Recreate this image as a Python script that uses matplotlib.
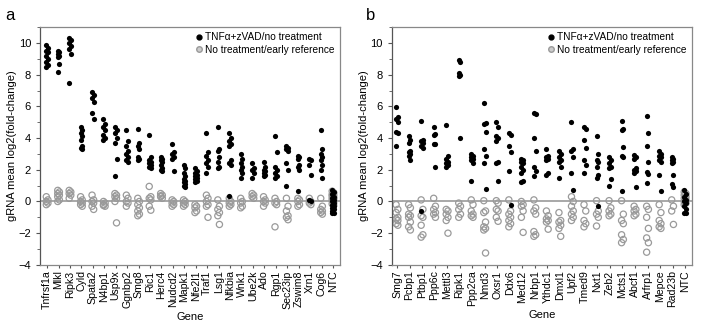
import matplotlib
matplotlib.use("Agg")
import matplotlib.pyplot as plt
from matplotlib.ticker import MultipleLocator
from matplotlib.lines import Line2D

plt.rcParams['font.family'] = ['Liberation Sans', 'DejaVu Sans']

# Panel a: genes and per-gRNA log2 fold-changes
genes_a = ["Tnfrsf1a", "Mlkl", "Ripk3", "Cyld", "Spata2", "N4bp1", "Usp9x", "Ggnbp2",
           "Smg8", "Ric1", "Herc4", "Nudcd2", "Mapk1", "Nfe2l1", "Traf1", "Lsg1",
           "Nfkbia", "Wnk1", "Ube2k", "Ado", "Rgp1", "Sec23ip", "Zswim8", "Xrn1",
           "Cog6", "NTC"]
treated_a = [
    [9.9, 9.7, 9.5, 9.4, 9.2, 9.0, 8.8, 8.6, 8.5],
    [9.5, 9.4, 9.3, 9.2, 9.1, 8.7, 8.2],
    [10.3, 10.2, 10.0, 9.8, 9.6, 9.3, 7.5],
    [4.7, 4.5, 4.3, 4.1, 3.9, 3.5, 3.4, 3.3],
    [6.9, 6.7, 6.5, 6.3, 5.6, 5.2],
    [5.2, 4.9, 4.7, 4.5, 4.2, 4.0, 3.9],
    [4.7, 4.5, 4.3, 4.0, 3.7, 2.7, 1.6],
    [4.5, 3.8, 3.5, 3.2, 3.0, 2.8, 2.6, 2.5],
    [4.6, 3.7, 3.5, 3.3, 2.8, 2.7, 2.6],
    [4.2, 2.8, 2.6, 2.5, 2.4, 2.3, 2.2, 2.1],
    [2.8, 2.7, 2.6, 2.5, 2.3, 2.1, 2.0, 1.9],
    [3.6, 3.1, 3.0, 2.8, 2.7, 1.9],
    [2.3, 2.1, 1.8, 1.6, 1.4, 1.3, 1.2, 1.1, 1.0, 0.9],
    [2.1, 1.9, 1.8, 1.7, 1.6, 1.5, 1.4, 1.3, 1.2],
    [4.3, 3.1, 2.9, 2.6, 2.4, 2.2, 1.8],
    [4.7, 3.3, 3.2, 2.8, 2.5, 2.2, 2.1],
    [4.3, 4.0, 3.8, 3.6, 3.5, 2.6, 2.4, 2.3, 0.35],
    [3.0, 2.7, 2.4, 2.2, 2.0, 1.8, 1.5],
    [2.4, 2.1, 2.0, 1.8, 1.5],
    [2.5, 2.2, 2.0, 1.9, 1.8, 1.7, 1.6],
    [4.1, 3.1, 2.2, 2.0, 1.8, 1.6, 1.5],
    [3.5, 3.4, 3.3, 3.2, 2.4, 2.0, 1.0],
    [2.9, 2.8, 2.7, 2.3, 2.2, 2.0, 0.65],
    [2.7, 2.6, 2.3, 1.7, 0.1, 0.0],
    [4.5, 3.3, 3.0, 2.8, 2.6, 2.3, 2.0, 1.5],
    [0.7, 0.6, 0.45, 0.3, 0.2, 0.1, 0.0, -0.1, -0.2, -0.3, -0.4, -0.5, -0.6, -0.7, -0.75],
]
early_a = [
    [0.3, 0.1, 0.0, -0.1, -0.2],
    [0.7, 0.6, 0.5, 0.4, 0.3, 0.1, 0.0],
    [0.7, 0.6, 0.5, 0.4, 0.2],
    [0.3, 0.1, 0.0, -0.1, -0.2, -0.3],
    [0.4, 0.1, 0.0, -0.1, -0.3, -0.5],
    [0.0, -0.1, -0.2, -0.3, -0.25],
    [0.5, 0.4, 0.3, 0.2, 0.0, -1.35],
    [0.4, 0.2, 0.0, -0.1, -0.3],
    [0.2, 0.0, -0.2, -0.4, -0.6, -0.8, -0.9],
    [0.95, 0.3, 0.2, 0.1, -0.3, -0.55],
    [0.5, 0.4, 0.3, 0.2, 0.35],
    [0.1, 0.0, -0.1, -0.2, -0.3],
    [0.1, 0.0, -0.1, -0.2, -0.3],
    [-0.2, -0.3, -0.4, -0.6, -0.7],
    [0.4, 0.2, 0.0, -0.2, -0.3, -1.0],
    [0.1, -0.3, -0.5, -0.7, -0.9, -1.45],
    [0.2, 0.0, -0.1, -0.2, -0.3],
    [0.2, 0.0, -0.1, -0.3, -0.4],
    [0.5, 0.4, 0.3, 0.2],
    [0.3, 0.1, 0.0, -0.1, -0.3],
    [0.2, 0.0, -0.1, -0.2, -1.6],
    [0.2, -0.3, -0.6, -0.9, -1.0, -1.15],
    [0.2, 0.1, 0.0, -0.2, -0.3],
    [0.2, 0.0, -0.1, -0.2],
    [0.2, -0.3, -0.5, -0.6, -0.7, -0.8],
    [0.65, 0.55, 0.45, 0.4, 0.35, 0.25, 0.2, 0.15, 0.05, -0.05, -0.15, -0.25],
]

# Panel b
genes_b = ["Smg7", "Pcbp1", "Ptbp1", "Ppp6c", "Mettl3", "Ripk1", "Ppp2ca", "Nmd3",
           "Oxsr1", "Ddx6", "Med12", "Nrbp1", "Ythdc1", "Dmxl1", "Upf2", "Tmed9",
           "Nxt1", "Zeb2", "Mcts1", "Abcf1", "Arfrp1", "Mepce", "Rad23b", "NTC"]
treated_b = [
    [5.95, 5.3, 5.2, 5.0, 4.4, 4.3, 3.5],
    [4.1, 3.9, 3.7, 3.2, 3.1, 3.0, 2.9, 2.6],
    [5.1, 3.9, 3.8, 3.7, 3.5, 3.4, -0.6],
    [4.7, 4.25, 4.2, 3.65, 3.6, 2.2],
    [4.8, 2.9, 2.7, 2.5, 2.4, 2.3, 2.2],
    [8.9, 8.8, 8.1, 8.0, 7.9, 4.0],
    [3.0, 2.9, 2.8, 2.7, 2.6, 2.4, 1.3],
    [6.2, 4.95, 4.9, 4.4, 3.3, 2.9, 2.4, 0.8],
    [5.0, 4.7, 4.1, 4.0, 3.8, 2.5, 2.4, 1.3],
    [4.3, 4.2, 3.5, 3.1, 1.9, -0.25],
    [2.7, 2.6, 2.5, 2.4, 2.2, 2.0, 1.8, 1.3, 1.2],
    [5.6, 5.5, 4.0, 3.2, 2.2, 1.9, 1.6],
    [3.3, 2.9, 2.8, 2.7, 2.6, 1.8, 1.7],
    [3.2, 3.0, 2.8, 2.6, 2.5, 2.2, 1.5],
    [5.0, 3.3, 3.2, 2.8, 1.8, 0.7],
    [4.7, 4.6, 3.9, 3.4, 2.6, 2.3, 1.8],
    [4.1, 3.0, 2.6, 2.5, 2.2, 1.7, 1.5, -0.3],
    [2.8, 2.6, 2.4, 2.2, 2.1, 1.4, 1.0],
    [5.1, 4.6, 4.5, 3.45, 2.85, 2.8, 0.65],
    [2.95, 2.8, 2.7, 2.1, 2.0, 1.9, 1.8, 0.9],
    [5.4, 4.3, 3.5, 2.5, 1.85, 1.75, 1.15],
    [3.2, 3.0, 2.9, 2.8, 2.6, 2.5, 1.7, 0.65],
    [2.8, 2.7, 2.6, 2.5, 2.4, 1.65, 1.1, 0.9],
    [0.7, 0.5, 0.3, 0.1, 0.0, -0.1, -0.3, -0.5, -0.7, -0.75],
]
early_b = [
    [-0.2, -0.5, -0.7, -1.0, -1.1, -1.2, -1.4, -1.5],
    [-0.2, -0.4, -0.8, -0.9, -1.0, -1.3, -1.6, -1.8],
    [0.1, -0.5, -0.9, -1.0, -1.5, -2.1, -2.25],
    [0.2, -0.3, -0.5, -0.7, -0.8, -1.0],
    [-0.5, -0.6, -0.8, -1.0, -1.2, -2.0],
    [-0.1, -0.3, -0.5, -0.8, -1.0],
    [0.1, -0.2, -0.6, -0.8, -0.9, -1.0],
    [0.05, -0.6, -0.7, -1.3, -1.6, -1.7, -1.8, -3.25],
    [0.05, -0.1, -0.5, -0.6, -1.0, -1.25],
    [0.1, -0.6, -0.8, -1.0, -1.2, -1.4, -1.6],
    [0.0, -0.2, -0.3, -0.6, -1.0, -1.95],
    [0.1, -0.4, -0.6, -0.8, -1.9, -2.1, -2.2],
    [-0.6, -0.9, -1.1, -1.2, -1.3, -1.75],
    [-0.7, -1.2, -1.3, -1.5, -1.7, -2.2],
    [0.3, 0.0, -0.3, -0.6, -0.8, -1.0, -1.2],
    [-0.2, -0.6, -1.2, -1.4, -1.6],
    [0.05, -0.6, -0.8, -1.0, -1.55],
    [0.05, -0.4, -0.6, -0.8, -0.9],
    [0.05, -0.8, -1.2, -1.4, -2.1, -2.4, -2.6],
    [-0.3, -0.5, -0.6, -0.8, -0.9],
    [-0.3, -0.5, -1.0, -1.7, -2.3, -2.6, -3.2],
    [-0.2, -0.7, -1.2, -1.4, -1.6, -1.7],
    [0.1, -0.3, -0.6, -1.45],
    [0.6, 0.5, 0.4, 0.3, 0.2, 0.1, 0.0, -0.1, -0.2],
]

GREY = '#9a9a9a'


def strip(ax, groups, **kw):
    # small alternating nudge so stacked dots stay readable
    for i, vals in enumerate(groups):
        xs = [i + (0.07 if k % 2 else -0.07) for k in range(len(vals))]
        ax.scatter(xs, vals, **kw)


def panel(ax, genes, treated, early, xpad):
    ax.axhline(0, color=GREY, lw=1.2, zorder=1)
    strip(ax, early, s=20, facecolors='none', edgecolors=GREY, linewidths=0.9, zorder=2)
    strip(ax, treated, s=14, color='black', linewidths=0, zorder=3)

    ax.set_xlim(-xpad[0], len(genes) - 1 + xpad[1])
    ax.set_ylim(-4, 11)
    ax.set_yticks(range(-4, 11, 2))
    ax.yaxis.set_minor_locator(MultipleLocator(1))
    ax.set_xticks(range(len(genes)))
    ax.set_xticklabels(genes, rotation=90, fontsize=7.6)
    ax.tick_params(axis='y', labelsize=8, length=3, color='#555555')
    ax.tick_params(axis='y', which='minor', length=2, color='#555555')
    ax.tick_params(axis='x', length=2, color='#555555', pad=2)
    for side in ['top', 'right', 'bottom', 'left']:
        ax.spines[side].set_color('#888888')
        ax.spines[side].set_linewidth(0.9)
    ax.spines['left'].set_color('#555555')
    ax.set_ylabel('gRNA mean log2(fold-change)', fontsize=8, labelpad=1)
    ax.set_xlabel('Gene', fontsize=8, labelpad=2)

    handles = [
        Line2D([], [], marker='o', ls='none', color='black', markersize=3.5,
               label='TNF\u03b1+zVAD/no treatment'),
        Line2D([], [], marker='o', ls='none', markerfacecolor='#cccccc',
               markeredgecolor=GREY, markeredgewidth=1.0, markersize=4,
               label='No treatment/early reference'),
    ]
    ax.legend(handles=handles, loc='upper right', frameon=False, fontsize=7.3,
              handletextpad=0.1, borderaxespad=0.3, labelspacing=0.25,
              handlelength=1.0, borderpad=0.2)


fig = plt.figure(figsize=(7.2, 3.27), dpi=100)
ax_a = fig.add_axes([0.0556, 0.19, 0.4167, 0.727])
ax_b = fig.add_axes([0.5444, 0.19, 0.4167, 0.727])

panel(ax_a, genes_a, treated_a, early_a, (0.62, 0.62))
panel(ax_b, genes_b, treated_b, early_b, (0.4, 0.55))

fig.text(0.007, 0.94, 'a', fontsize=12, ha='left', va='baseline')
fig.text(0.508, 0.94, 'b', fontsize=12, ha='left', va='baseline')

fig.savefig('out.png', dpi=100, facecolor='white')
